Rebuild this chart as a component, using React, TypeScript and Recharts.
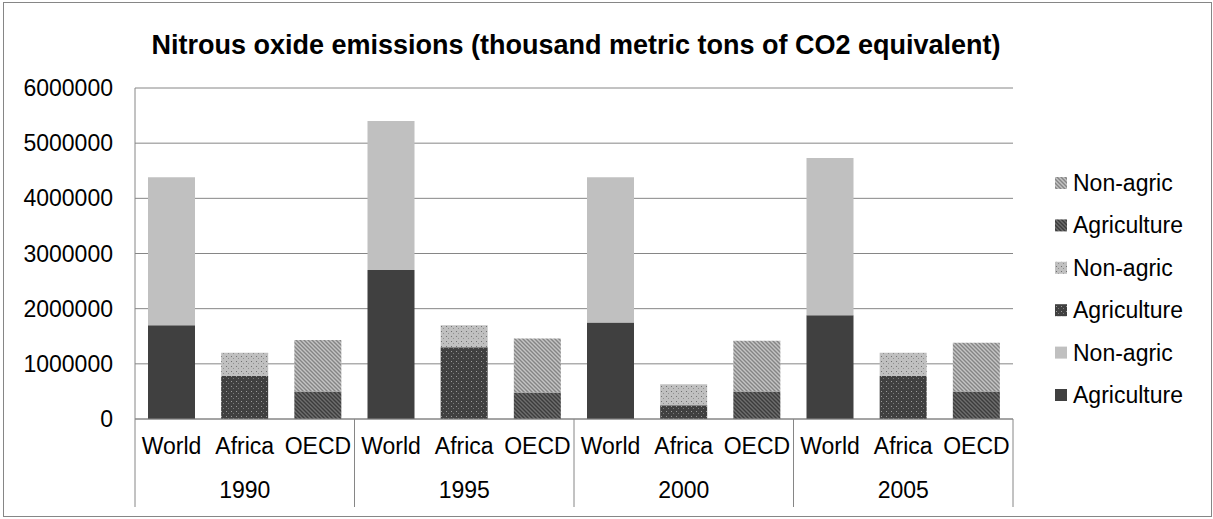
import React from "react";
import { Bar, BarChart, CartesianGrid, XAxis, YAxis } from "recharts";

const years = ["1990", "1995", "2000", "2005"];
const regions = ["World", "Africa", "OECD"];

const worldAgri = [1700000, 2700000, 1750000, 1880000];
const worldNonAgri = [2680000, 2700000, 2630000, 2850000];
const africaAgri = [780000, 1300000, 250000, 780000];
const africaNonAgri = [420000, 400000, 380000, 420000];
const oecdAgri = [500000, 480000, 500000, 500000];
const oecdNonAgri = [930000, 980000, 920000, 880000];

const yTicks = [0, 1000000, 2000000, 3000000, 4000000, 5000000, 6000000];

const series = [
  { key: "worldAgri", name: "Agriculture", region: "World", fill: "#404040", values: worldAgri },
  { key: "worldNonAgri", name: "Non-agric", region: "World", fill: "#c0c0c0", values: worldNonAgri },
  { key: "africaAgri", name: "Agriculture", region: "Africa", fill: "url(#dotsDark)", values: africaAgri },
  { key: "africaNonAgri", name: "Non-agric", region: "Africa", fill: "url(#dotsLight)", values: africaNonAgri },
  { key: "oecdAgri", name: "Agriculture", region: "OECD", fill: "url(#diagDark)", values: oecdAgri },
  { key: "oecdNonAgri", name: "Non-agric", region: "OECD", fill: "url(#diagLight)", values: oecdNonAgri },
];

const data = years.flatMap((year, yi) =>
  regions.map((region) => {
    const row: Record<string, string | number> = { region, year };
    series.forEach((s) => {
      row[s.key] = s.region === region ? s.values[yi] : 0;
    });
    return row;
  })
);

const FONT = "'Liberation Sans', Arial, sans-serif";
const W = 1213;
const H = 519;
const PLOT_LEFT = 135;
const PLOT_RIGHT = 1013;
const PLOT_TOP = 88;
const PLOT_BOTTOM = 419;
const BAND = (PLOT_RIGHT - PLOT_LEFT) / data.length;
const GRID = "#868686";

function CategoryTick(props: any) {
  const { x, y, index, payload } = props;
  const half = BAND / 2;
  return (
    <g>
      <text x={x} y={y + 35} textAnchor="middle" fontSize={23} fontFamily={FONT} fill="#000">
        {payload.value}
      </text>
      {index % 3 === 1 && (
        <text x={x} y={y + 79} textAnchor="middle" fontSize={23} fontFamily={FONT} fill="#000">
          {years[Math.floor(index / 3)]}
        </text>
      )}
      {index % 3 === 0 && <line x1={x - half} x2={x - half} y1={y} y2={y + 88} stroke={GRID} />}
      {index === data.length - 1 && <line x1={x + half} x2={x + half} y1={y} y2={y + 88} stroke={GRID} />}
    </g>
  );
}

const legendItems = [...series].reverse();

export default function App() {
  return (
    <div style={{ position: "absolute", left: 0, top: 0, width: W, height: H, background: "#fff", fontFamily: FONT }}>
      <div
        style={{
          position: "absolute",
          left: 3,
          top: 2,
          width: 1207,
          height: 513,
          border: `1px solid ${GRID}`,
        }}
      />
      <div
        style={{
          position: "absolute",
          left: 0,
          top: 29,
          width: 1152,
          textAlign: "center",
          fontSize: 27,
          fontWeight: "bold",
          lineHeight: "32px",
          color: "#000",
        }}
      >
        Nitrous oxide emissions (thousand metric tons of CO2 equivalent)
      </div>
      <div style={{ position: "absolute", left: 0, top: 0 }}>
        <BarChart
          width={W}
          height={H}
          data={data}
          margin={{ top: PLOT_TOP, right: W - PLOT_RIGHT, bottom: 0, left: 0 }}
        >
          <defs>
            <pattern id="dotsDark" width="5" height="5" patternUnits="userSpaceOnUse">
              <rect width="5" height="5" fill="#404040" />
              <rect x="1" y="1" width="1" height="1" fill="#9a9a9a" />
              <rect x="3" y="3" width="1" height="1" fill="#7a7a7a" />
            </pattern>
            <pattern id="dotsLight" width="5" height="5" patternUnits="userSpaceOnUse">
              <rect width="5" height="5" fill="#c0c0c0" />
              <rect x="1" y="1" width="1" height="1" fill="#707070" />
              <rect x="3" y="3" width="1" height="1" fill="#909090" />
            </pattern>
            <pattern id="diagDark" width="4" height="4" patternUnits="userSpaceOnUse">
              <rect width="4" height="4" fill="#3c3c3c" />
              <path d="M-1,-1 L5,5 M-1,3 L1,5 M3,-1 L5,1" stroke="#6e6e6e" strokeWidth="1.4" />
            </pattern>
            <pattern id="diagLight" width="4" height="4" patternUnits="userSpaceOnUse">
              <rect width="4" height="4" fill="#c4c4c4" />
              <path d="M-1,-1 L5,5 M-1,3 L1,5 M3,-1 L5,1" stroke="#858585" strokeWidth="1.4" />
            </pattern>
          </defs>
          <CartesianGrid vertical={false} stroke={GRID} />
          <XAxis
            dataKey="region"
            height={H - PLOT_BOTTOM}
            interval={0}
            tickLine={false}
            tickSize={0}
            tickMargin={0}
            axisLine={{ stroke: GRID }}
            tick={<CategoryTick />}
          />
          <YAxis
            width={PLOT_LEFT}
            domain={[0, 6000000]}
            ticks={yTicks}
            tickLine={false}
            tickSize={0}
            tickMargin={22}
            axisLine={{ stroke: GRID }}
            tick={{ fontSize: 23, fontFamily: FONT, fill: "#000" }}
          />
          {series.map((s) => (
            <Bar
              key={s.key}
              dataKey={s.key}
              name={s.name}
              stackId="total"
              fill={s.fill}
              barSize={47}
              isAnimationActive={false}
            />
          ))}
        </BarChart>
      </div>
      <svg style={{ position: "absolute", left: 1040, top: 160 }} width={170} height={260}>
        {legendItems.map((s, i) => {
          const cy = 23 + i * 42.4;
          return (
            <g key={s.key}>
              <rect x={15} y={cy - 6} width={12} height={12} fill={s.fill} />
              <text x={33} y={cy + 8} fontSize={23} fontFamily={FONT} fill="#000">
                {s.name}
              </text>
            </g>
          );
        })}
      </svg>
    </div>
  );
}
